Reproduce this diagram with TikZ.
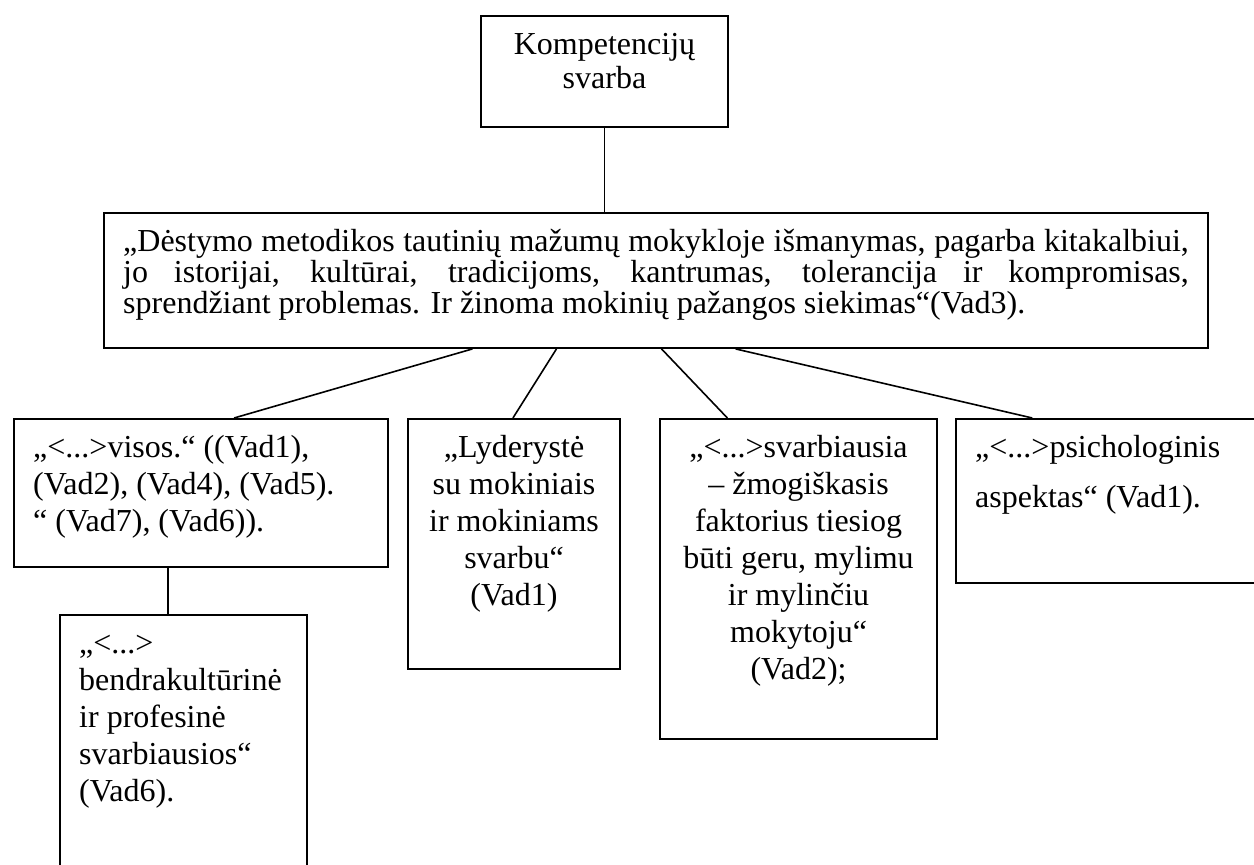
\documentclass[tikz,border=0pt]{standalone}
\usepackage{fontspec}
\setmainfont{Liberation Serif}
\usetikzlibrary{calc}
\tikzset{tbox/.style={draw, line width=0.75pt, inner xsep=7.2pt, inner ysep=3.6pt,
		anchor=north west, font=\fontsize{12pt}{13.9pt}\selectfont},
	link/.style={line width=0.6pt}}
\newcommand{\boxtxt}[4]{\parbox[t][#2][t]{#1}{#3\rule{0pt}{10.7pt}#4}}

\begin{document}
\begin{tikzpicture}[x=0.375pt, y=-0.375pt]
		\clip (0,0) rectangle (1254,865);
		\node[tbox] (top) at (480,15) {\boxtxt{78.2pt}{34.4pt}{\fontsize{12pt}{12.75pt}\selectfont\centering}{Kompetencijų\\ svarba}};
		\node[tbox] (main) at (103,212) {\boxtxt{399.6pt}{43.4pt}{\fontsize{12pt}{11.7pt}\selectfont\tolerance=10000}{„Dėstymo metodikos tautinių mažumų mokykloje išmanymas, pagarba kitakalbiui,\linebreak jo istorijai, kultūrai, tradicijoms, kantrumas, tolerancija ir kompromisas,\linebreak sprendžiant problemas. Ir žinoma mokinių pažangos siekimas“(Vad3).}};
		\node[tbox] (b1) at (13,418) {\boxtxt{125.85pt}{48.3pt}{\raggedright}{„<...>visos.“ ((Vad1),\\ (Vad2), (Vad4), (Vad5).\\ “ (Vad7), (Vad6)).}};
		\node[tbox] (b2) at (407,418) {\boxtxt{65.1pt}{86.55pt}{\centering}{„Lyderystė\\ su mokiniais\\ ir mokiniams\\ svarbu“\\ (Vad1)}};
		\node[tbox] (b3) at (659,418) {\boxtxt{89.5pt}{112.8pt}{\centering}{„<...>svarbiausia\\ – žmogiškasis\\ faktorius tiesiog\\ būti geru, mylimu\\ ir mylinčiu\\ mokytoju“\\ (Vad2);}};
		\node[tbox] (b4) at (955,418) {\boxtxt{105.6pt}{54.3pt}{\raggedright}{„<...>psichologinis\\[4.9pt] aspektas“ (Vad1).}};
		\node[tbox] (b6) at (59,614) {\boxtxt{78.2pt}{100pt}{\raggedright}{„<...>\\ bendrakultūrinė\\ ir profesinė\\ svarbiausios“\\ (Vad6).}};
		% connectors
		\draw[link] (top.south) -- (top.south |- main.north);
		\draw[link] ($(main.south west)!0.334!(main.south east)$) -- ($(b1.north west)!0.588!(b1.north east)$);
		\draw[link] ($(main.south west)!0.410!(main.south east)$) -- ($(b2.north west)!0.495!(b2.north east)$);
		\draw[link] ($(main.south west)!0.505!(main.south east)$) -- ($(b3.north west)!0.245!(b3.north east)$);
		\draw[link] ($(main.south west)!0.572!(main.south east)$) -- ($(b4.north west)!0.24!(b4.north east)$);
		\path ($(b1.south west)!0.412!(b1.south east)$) coordinate (b1s);
		\draw[link] (b1s) -- (b1s |- b6.north);
	\end{tikzpicture}
\end{document}
